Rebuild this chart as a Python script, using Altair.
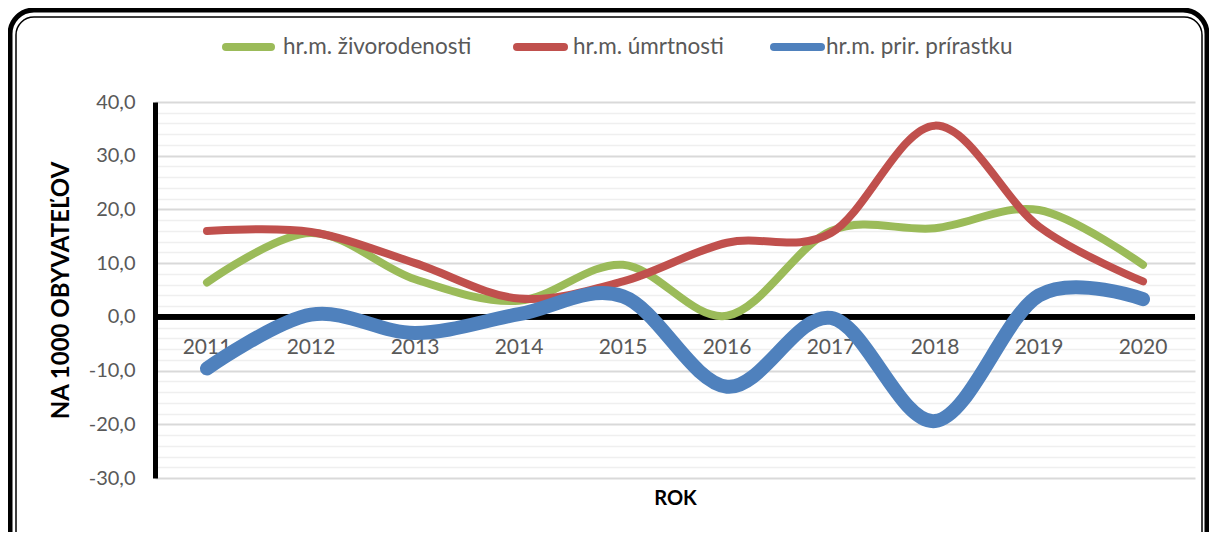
import altair as alt
import pandas as pd

# ---- data ----
years = ["2011", "2012", "2013", "2014", "2015", "2016", "2017", "2018", "2019", "2020"]
births = [6.4, 15.6, 7.0, 3.0, 9.7, 0.2, 16.0, 16.5, 19.9, 9.7]        # hr.m. živorodenosti
deaths = [16.0, 15.8, 10.0, 3.4, 6.6, 13.8, 15.6, 35.6, 16.8, 6.6]     # hr.m. úmrtnosti
natural = [-9.6, 0.4, -3.0, 0.5, 3.8, -13.0, -0.2, -19.4, 4.0, 3.3]   # hr.m. prir. prírastku
series_names = ["hr.m. živorodenosti", "hr.m. úmrtnosti", "hr.m. prir. prírastku"]
series_colors = ["#9BBB59", "#C0504D", "#4F81BD"]
series_widths = [8, 8, 14]
y_ticks = list(range(-30, 41, 2))

FONT = "Lato"
W, H = 1040, 376

x_enc = alt.X("year:O", scale=alt.Scale(type="point", padding=0.5),
              axis=alt.Axis(labels=False, ticks=False, domain=False, grid=False,
                            title="ROK", titleFont=FONT, titleFontSize=20,
                            titleFontWeight="bold", titleColor="black", titlePadding=10))
y_enc = alt.Y("value:Q", scale=alt.Scale(domain=[-30, 40], nice=False, zero=False),
              axis=alt.Axis(values=y_ticks, tickCount=100, labelOverlap=False,
                            labelExpr="datum.value % 10 === 0 ? replace(replace(format(datum.value, '.1f'), '.', ','), '\u2212', '-') : ''",
                            gridColor={"condition": {"test": "datum.value % 10 === 0", "value": "#d9d9d9"},
                                       "value": "#efefef"},
                            gridWidth={"condition": {"test": "datum.value % 10 === 0", "value": 2},
                                       "value": 1.5},
                            ticks=False, domainColor="black", domainWidth=5,
                            labelFont=FONT, labelFontSize=20, labelColor="#595959", labelPadding=20,
                            title="NA 1000 OBYVATEĽOV", titleFont=FONT, titleFontSize=24,
                            titleFontWeight="bold", titleColor="black", titlePadding=15))

one = pd.DataFrame({"k": [0]})

# rounded double frame
frame_outer = alt.Chart(one).mark_rect(filled=False, stroke="black", strokeWidth=5, cornerRadius=24).encode(
    x=alt.value(-145), x2=alt.value(1052), y=alt.value(-92), y2=alt.value(470))
frame_inner = alt.Chart(one).mark_rect(filled=False, stroke="black", strokeWidth=1.5, cornerRadius=18).encode(
    x=alt.value(-139), x2=alt.value(1047), y=alt.value(-85), y2=alt.value(470))

layers = [frame_outer, frame_inner]

# axes holder + zero line
zero_df = pd.DataFrame({"year": years, "value": [0] * len(years)})
zero_line = alt.Chart(zero_df).mark_rule(color="black", strokeWidth=5).encode(y=y_enc)
layers.append(zero_line)

# category labels sitting under the zero line
year_text = alt.Chart(zero_df).mark_text(font=FONT, fontSize=21, color="#595959", dy=31).encode(
    x=x_enc, y=alt.Y("value:Q"), text="year:N")
layers.append(year_text)

for name, vals, col, wd in zip(series_names, [births, deaths, natural], series_colors, series_widths):
    d = pd.DataFrame({"year": years, "value": vals, "series": name})
    layers.append(
        alt.Chart(d).mark_line(interpolate="cardinal", color=col, strokeWidth=wd,
                               strokeCap="round", strokeJoin="round").encode(x=x_enc, y=y_enc))

# legend drawn at the top
leg_sym = [(71, 116), (362, 409), (619, 666)]
leg_txt = [128, 418, 671]
for name, col, (a, b), tx in zip(series_names, series_colors, leg_sym, leg_txt):
    ld = pd.DataFrame({"series": [name]})
    layers.append(alt.Chart(ld).mark_rule(color=col, strokeWidth=8, strokeCap="round").encode(
        x=alt.value(a), x2=alt.value(b), y=alt.value(-55)))
    layers.append(alt.Chart(ld).mark_text(font=FONT, fontSize=22.5, color="#595959", align="left",
                                          baseline="middle").encode(
        x=alt.value(tx), y=alt.value(-55), text="series:N"))

chart = alt.layer(*layers).properties(
    width=W, height=H,
    autosize=alt.AutoSizeParams(type="none"),
    padding={"left": 147, "top": 94, "right": 14, "bottom": 54},
    background="white",
).configure_view(stroke=None)

chart.save("out.html", embed_options={"renderer": "svg", "actions": False})
